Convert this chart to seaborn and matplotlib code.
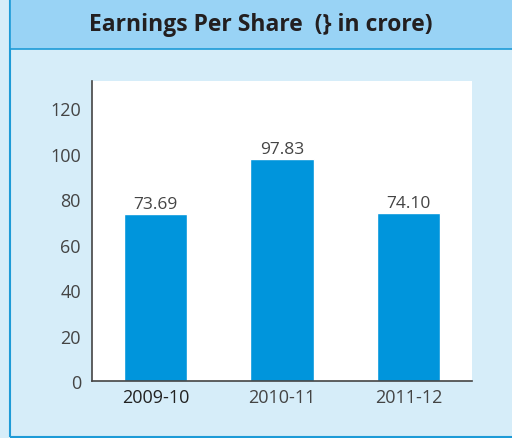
import matplotlib
matplotlib.use("Agg")
import matplotlib.pyplot as plt
from matplotlib.patches import Rectangle
import seaborn as sns

years = ["2009-10", "2010-11", "2011-12"]
eps = [73.69, 97.83, 74.10]
y_ticks = [0, 20, 40, 60, 80, 100, 120]

sns.set_style("white")
plt.rcParams["font.family"] = ["Open Sans", "DejaVu Sans"]

W, H = 512, 439
fig = plt.figure(figsize=(W / 100, H / 100), dpi=100)
fig.patch.set_facecolor("#d6edf9")

# panel frame and title band
border = "#1e9bd7"
fig.patches.append(Rectangle((10 / W, 1 / H), 1.0, (H - 2) / H, transform=fig.transFigure,
                             facecolor="none", edgecolor=border, linewidth=1.5, zorder=0))
fig.patches.append(Rectangle((10 / W, (H - 50) / H), 1.0, 50 / H, transform=fig.transFigure,
                             facecolor="#99d3f5", edgecolor=border, linewidth=1.2, zorder=0))
fig.text((10 + W) / 2 / W, (H - 25) / H, "Earnings Per Share  (} in crore)",
         ha="center", va="center", fontsize=16.5, fontweight="bold", color="#231f20")

ax = fig.add_axes([92 / W, (H - 382) / H, 380 / W, 300 / H])
ax.set_facecolor("white")
sns.barplot(x=years, y=eps, color="#0095dc", width=0.5, saturation=1, ax=ax)
ax.bar_label(ax.containers[0], fmt="%.2f", padding=1, fontsize=12.5, color="#444444")

ax.set_ylim(0, 132)
ax.set_xlim(-0.5, 2.5)
ax.set_yticks(y_ticks)
ax.set_xticks([-0.5, 0.5, 1.5, 2.5], minor=True)
ax.tick_params(axis="x", which="major", length=0, pad=5, labelsize=13, labelcolor="#444444")
ax.tick_params(axis="x", which="minor", length=4, width=1, color="#555555", direction="out")
ax.tick_params(axis="y", length=5, width=1, color="#555555", direction="out", pad=3,
               labelsize=13, labelcolor="#444444")
ax.get_xticklabels()[0].set_color("#222222")

for side in ["top", "right"]:
    ax.spines[side].set_visible(False)
for side in ["left", "bottom"]:
    ax.spines[side].set_color("#444444")
    ax.spines[side].set_linewidth(1.2)
ax.set_xlabel("")
ax.set_ylabel("")

fig.savefig("out.png", dpi=100, facecolor=fig.get_facecolor())
